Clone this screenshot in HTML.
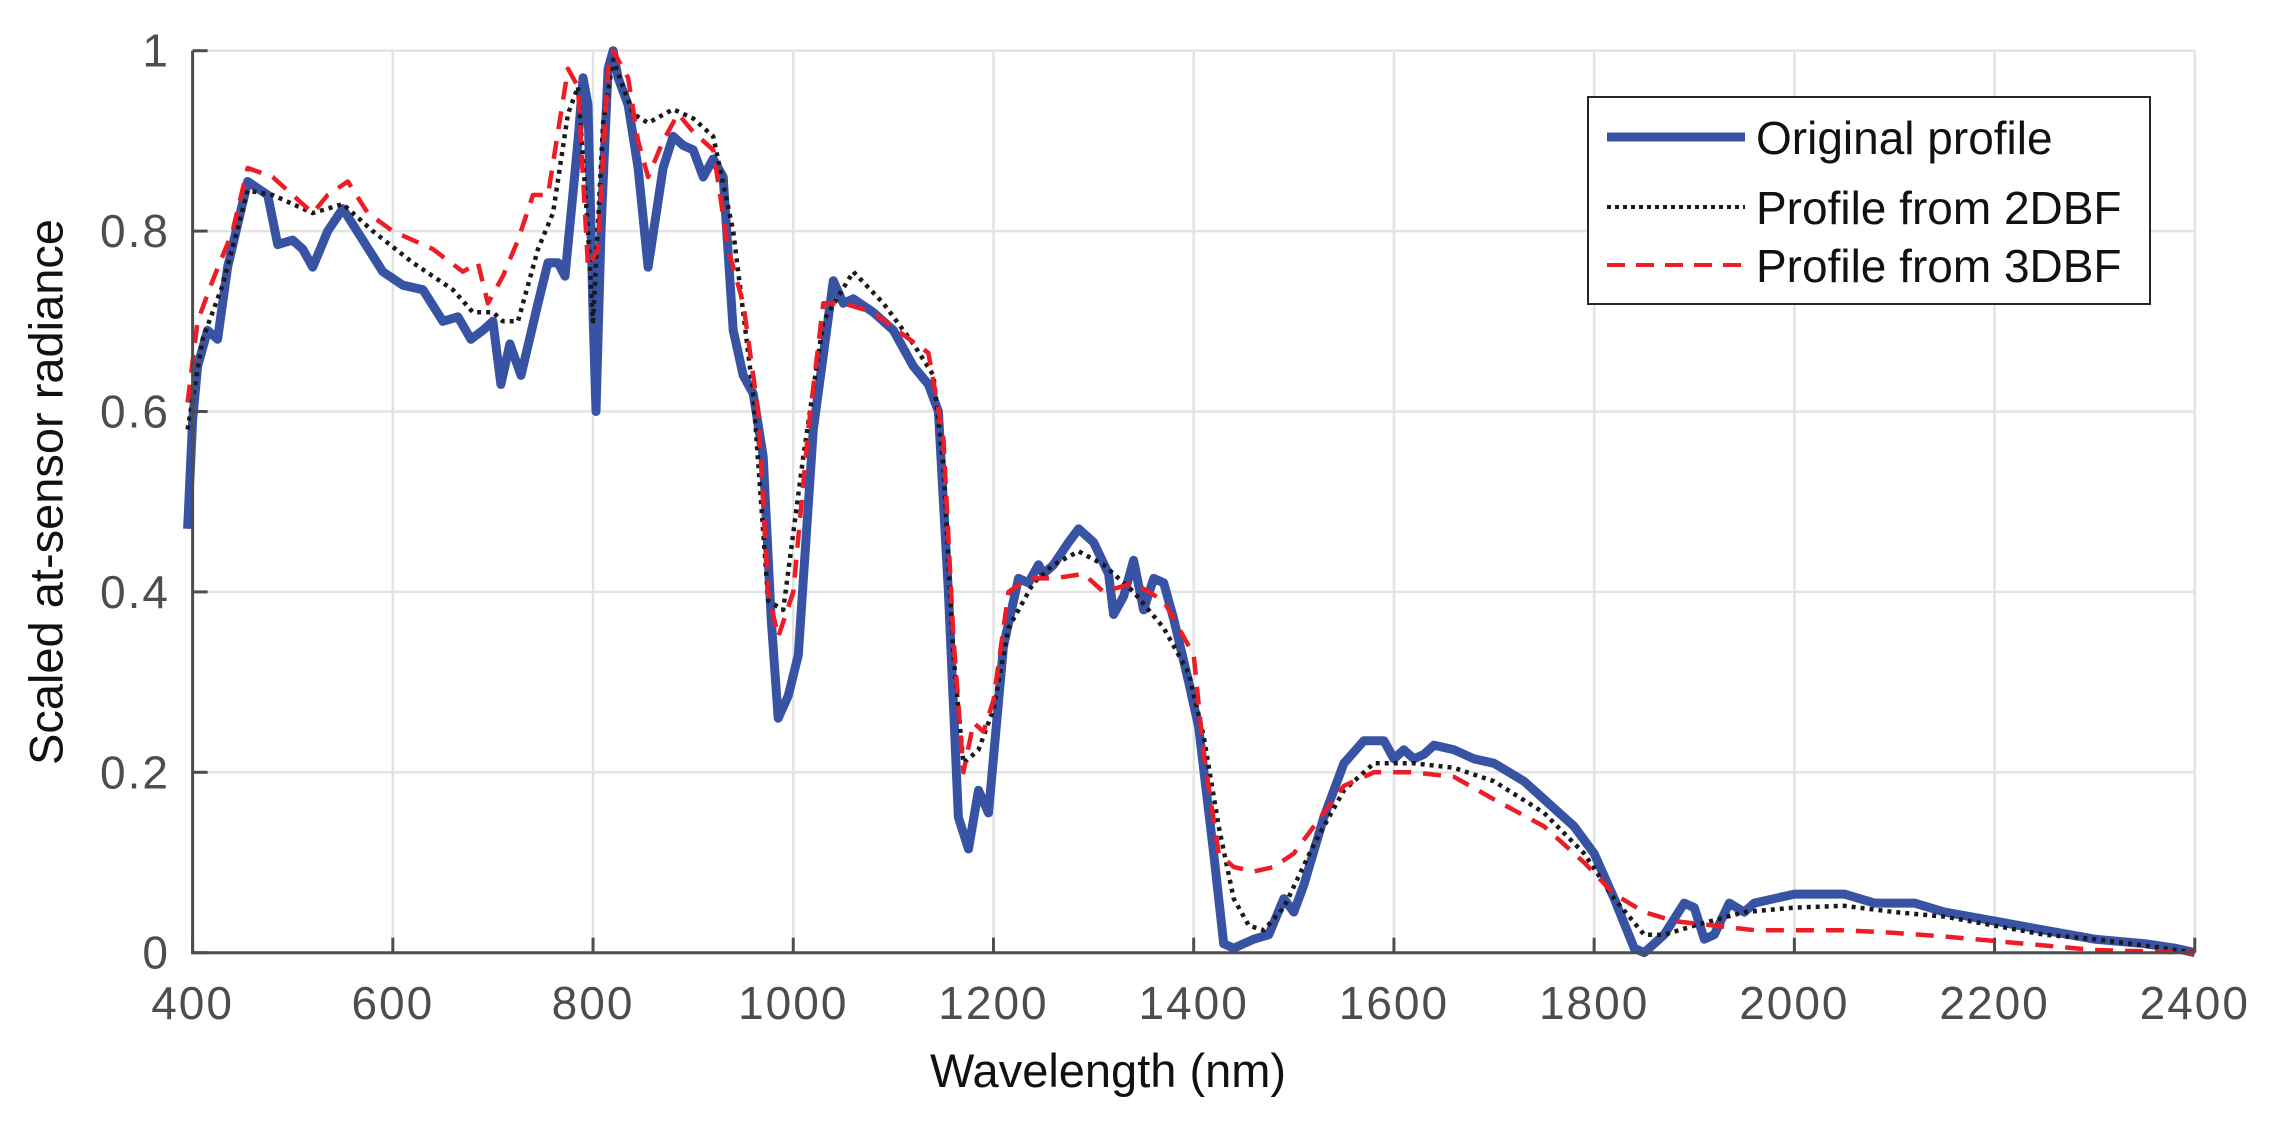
<!DOCTYPE html>
<html><head><meta charset="utf-8"><style>
html,body{margin:0;padding:0;background:#fff}
svg{display:block}
text{font-family:"Liberation Sans",Arial,sans-serif}
</style></head><body>
<svg id="s" width="2270" height="1122" viewBox="0 0 2270 1122" xmlns="http://www.w3.org/2000/svg">
<g id="grid" stroke="#e3e3e3" stroke-width="2.5"></g>
<g id="series" fill="none" stroke-linejoin="round"></g>
<g id="axes"></g>
<text x="50" y="492" font-size="47" fill="#111" text-anchor="middle" transform="rotate(-90 50 492)" dominant-baseline="middle">Scaled at-sensor radiance</text>
<text x="1108" y="1087" font-size="47" fill="#111" text-anchor="middle">Wavelength (nm)</text>
<g>
<rect x="1588" y="97" width="562" height="207" fill="#fff" stroke="#262626" stroke-width="2"/>
<line x1="1607" y1="137" x2="1745" y2="137" stroke="#3953a4" stroke-width="9"/>
<line x1="1607" y1="207" x2="1745" y2="207" stroke="#1a1a1a" stroke-width="4" stroke-dasharray="4 4"/>
<line x1="1607" y1="265" x2="1745" y2="265" stroke="#ee1c25" stroke-width="4" stroke-dasharray="18 11"/>
<text x="1756" y="154" font-size="46" fill="#111">Original profile</text>
<text x="1756" y="224" font-size="46" fill="#111">Profile from 2DBF</text>
<text x="1756" y="282" font-size="46" fill="#111">Profile from 3DBF</text>
</g>
</svg>
<script>
const X0=192.6,K=1.0011,YB=952.7,H=902;
const fx=n=>X0+(n-400)*K, fy=v=>YB-v*H;
const ns="http://www.w3.org/2000/svg";
function el(p,t,a,txt){const e=document.createElementNS(ns,t);for(const k in a)e.setAttribute(k,a[k]);if(txt!=null)e.textContent=txt;document.getElementById(p).appendChild(e);return e;}
for(let n=400;n<=2400;n+=200){const x=fx(n);if(n>400)el('grid','line',{x1:x,y1:fy(1),x2:x,y2:YB});
 el('axes','line',{x1:x,y1:YB,x2:x,y2:YB-15,stroke:'#4d4d4d','stroke-width':3});
 el('axes','text',{x:x,y:1019,'font-size':46,'letter-spacing':2,fill:'#4d4d4d','text-anchor':'middle'},n);}
[0,0.2,0.4,0.6,0.8,1].forEach(v=>{const y=fy(v);if(v>0)el('grid','line',{x1:X0,y1:y,x2:fx(2400),y2:y});
 el('axes','line',{x1:X0,y1:y,x2:X0+15,y2:y,stroke:'#4d4d4d','stroke-width':3});
 el('axes','text',{x:170,y:y+16,'font-size':46,'letter-spacing':2,fill:'#4d4d4d','text-anchor':'end'},v===0?'0':v===1?'1':String(v));});
el('axes','path',{d:`M${X0},${fy(1)}V${YB}H${fx(2400)}`,fill:'none',stroke:'#4d4d4d','stroke-width':3});
const blue=[[395,0.47],[400,0.59],[405,0.65],[415,0.69],[425,0.68],[435,0.76],[455,0.855],[475,0.84],[485,0.785],[500,0.79],[510,0.78],[520,0.76],[535,0.80],[550,0.825],[570,0.79],[590,0.755],[610,0.74],[630,0.735],[650,0.70],[665,0.705],[678,0.68],[690,0.69],[700,0.70],[708,0.63],[717,0.675],[728,0.64],[745,0.72],[755,0.765],[765,0.765],[772,0.75],[785,0.90],[790,0.97],[795,0.94],[800,0.71],[803,0.60],[808,0.80],[815,0.98],[820,1.0],[825,0.97],[835,0.94],[845,0.87],[855,0.76],[870,0.87],[880,0.905],[890,0.895],[900,0.89],[910,0.86],[920,0.88],[930,0.86],[940,0.69],[950,0.64],[960,0.62],[970,0.55],[978,0.37],[985,0.26],[995,0.285],[1005,0.33],[1020,0.58],[1040,0.745],[1050,0.72],[1060,0.725],[1080,0.71],[1100,0.69],[1120,0.65],[1135,0.63],[1145,0.60],[1155,0.40],[1165,0.15],[1175,0.115],[1185,0.18],[1195,0.155],[1210,0.34],[1225,0.415],[1235,0.41],[1245,0.43],[1250,0.42],[1260,0.43],[1275,0.455],[1285,0.47],[1300,0.455],[1315,0.42],[1320,0.375],[1330,0.395],[1340,0.435],[1350,0.38],[1360,0.415],[1370,0.41],[1380,0.37],[1395,0.30],[1405,0.25],[1420,0.11],[1430,0.01],[1440,0.005],[1460,0.015],[1475,0.02],[1490,0.06],[1500,0.045],[1510,0.075],[1530,0.15],[1550,0.21],[1570,0.235],[1590,0.235],[1600,0.215],[1610,0.225],[1620,0.215],[1630,0.22],[1640,0.23],[1660,0.225],[1680,0.215],[1700,0.21],[1730,0.19],[1760,0.16],[1780,0.14],[1800,0.11],[1820,0.06],[1840,0.005],[1850,0.0],[1870,0.02],[1890,0.055],[1900,0.05],[1910,0.015],[1920,0.02],[1935,0.055],[1950,0.045],[1960,0.055],[2000,0.065],[2050,0.065],[2080,0.055],[2120,0.055],[2150,0.045],[2200,0.035],[2250,0.025],[2300,0.015],[2350,0.01],[2380,0.005],[2400,0.0]];
const black=[[395,0.58],[410,0.68],[430,0.74],[455,0.845],[480,0.84],[520,0.82],[550,0.83],[580,0.80],[620,0.765],[660,0.735],[680,0.71],[700,0.71],[710,0.70],[725,0.70],[745,0.78],[760,0.82],[775,0.93],[785,0.96],[795,0.80],[800,0.70],[810,0.92],[820,0.99],[840,0.93],[855,0.92],[880,0.935],[900,0.925],[920,0.905],[940,0.80],[960,0.62],[975,0.39],[990,0.38],[1010,0.55],[1030,0.70],[1060,0.755],[1090,0.72],[1120,0.675],[1140,0.64],[1150,0.54],[1160,0.33],[1170,0.21],[1185,0.225],[1200,0.27],[1215,0.36],[1240,0.41],[1260,0.43],[1285,0.445],[1310,0.43],[1340,0.40],[1370,0.36],[1395,0.31],[1410,0.24],[1425,0.14],[1440,0.06],[1455,0.03],[1470,0.025],[1490,0.05],[1520,0.12],[1550,0.18],[1580,0.21],[1620,0.21],[1660,0.205],[1700,0.19],[1750,0.155],[1790,0.11],[1820,0.06],[1850,0.02],[1870,0.02],[1900,0.03],[1950,0.045],[2000,0.05],[2050,0.052],[2100,0.045],[2150,0.04],[2200,0.03],[2250,0.02],[2300,0.015],[2350,0.008],[2400,0.0]];
const red=[[395,0.61],[405,0.70],[420,0.745],[440,0.80],[455,0.87],[480,0.86],[500,0.84],[520,0.82],[535,0.84],[555,0.855],[575,0.82],[600,0.80],[640,0.78],[670,0.755],[685,0.765],[695,0.72],[710,0.75],[725,0.79],[740,0.84],[755,0.84],[775,0.98],[785,0.96],[795,0.76],[805,0.78],[815,0.98],[820,1.0],[835,0.97],[845,0.90],[855,0.86],[870,0.90],[885,0.93],[900,0.91],[920,0.89],[935,0.78],[950,0.72],[965,0.60],[975,0.40],[985,0.35],[1000,0.40],[1015,0.58],[1030,0.72],[1050,0.72],[1080,0.71],[1110,0.685],[1135,0.665],[1150,0.57],[1160,0.35],[1170,0.20],[1180,0.255],[1190,0.245],[1200,0.28],[1215,0.40],[1235,0.415],[1260,0.415],[1290,0.42],[1310,0.40],[1340,0.41],[1370,0.39],[1400,0.33],[1410,0.22],[1425,0.11],[1440,0.095],[1460,0.09],[1480,0.095],[1500,0.11],[1520,0.14],[1550,0.185],[1580,0.20],[1620,0.20],[1660,0.195],[1700,0.17],[1750,0.14],[1790,0.10],[1820,0.065],[1850,0.045],[1880,0.035],[1920,0.03],[1960,0.025],[2000,0.025],[2050,0.025],[2100,0.022],[2150,0.018],[2200,0.013],[2250,0.008],[2300,0.003],[2400,0.0]];
const d=a=>'M'+a.map(p=>fx(p[0]).toFixed(1)+','+fy(p[1]).toFixed(1)).join('L');
el('series','path',{d:d(blue),stroke:'#3953a4','stroke-width':9});
el('series','path',{d:d(black),stroke:'#1a1a1a','stroke-width':4.5,'stroke-dasharray':'4 5'});
el('series','path',{d:d(red),stroke:'#ee1c25','stroke-width':4.5,'stroke-dasharray':'18 12'});
</script>
</body></html>
